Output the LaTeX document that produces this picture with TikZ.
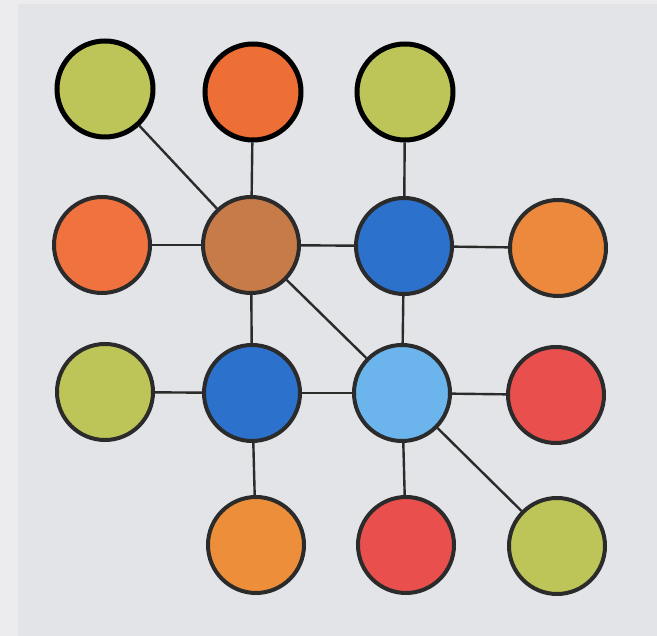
\documentclass[tikz,border=0pt]{standalone}
\usetikzlibrary{positioning}
\definecolor{paper}{HTML}{E3E4E8}
\definecolor{edge}{HTML}{ECECEE}
\definecolor{ink}{HTML}{2B2B2B}
\definecolor{lime}{HTML}{BDC558}
\definecolor{tangerine}{HTML}{EE6F36}
\definecolor{coral}{HTML}{F0723E}
\definecolor{amber}{HTML}{EC893D}
\definecolor{brown}{HTML}{C67B48}
\definecolor{blue}{HTML}{2C72CC}
\definecolor{sky}{HTML}{6BB4EC}
\definecolor{red}{HTML}{E9504D}

\begin{document}
\begin{tikzpicture}[x=1pt,y=-1pt,ball/.style={circle,draw=ink,line width=4pt,minimum size=96pt,inner sep=0pt},topball/.style={ball,draw=black,line width=5pt},link/.style={draw=ink,line width=2.4pt}]
% paper
\fill[edge] (0,0) rectangle (657,636);
\fill[paper] (18,4) rectangle (657,636);
\useasboundingbox (0,0) rectangle (657,636);
% first row
\node[topball,fill=lime] (limeA) at (105,89) {};
\node[topball,fill=tangerine] (orangeA) at (253,92) {};
\node[topball,fill=lime] (limeB) at (405,92) {};
% second row
\node[ball,fill=coral] (orangeB) at (102,245) {};
\node[ball,fill=brown] (hub) at (251,245) {};
\node[ball,fill=blue] (blueA) at (404,246) {};
\node[ball,fill=amber] (orangeC) at (558,248) {};
% third row
\node[ball,fill=lime] (limeC) at (105,392) {};
\node[ball,fill=blue] (blueB) at (252,393) {};
\node[ball,fill=sky] (core) at (402,393) {};
\node[ball,fill=red] (redA) at (556,395) {};
% fourth row
\node[ball,fill=amber!95!yellow] (orangeD) at (256,545) {};
\node[ball,fill=red] (redB) at (406,545) {};
\node[ball,fill=lime] (limeD) at (557,546) {};
% links
\draw[link] (limeA)--(hub);
\draw[link] (orangeA)--(hub);
\draw[link] (limeB)--(blueA);
\draw[link] (orangeB)--(hub);
\draw[link] (hub)--(blueA);
\draw[link] (blueA)--(orangeC);
\draw[link] (hub)--(blueB);
\draw[link] (hub)--(core);
\draw[link] (blueA)--(core);
\draw[link] (limeC)--(blueB);
\draw[link] (blueB)--(core);
\draw[link] (core)--(redA);
\draw[link] (blueB)--(orangeD);
\draw[link] (core)--(redB);
\draw[link] (core)--(limeD);
\end{tikzpicture}
\end{document}
